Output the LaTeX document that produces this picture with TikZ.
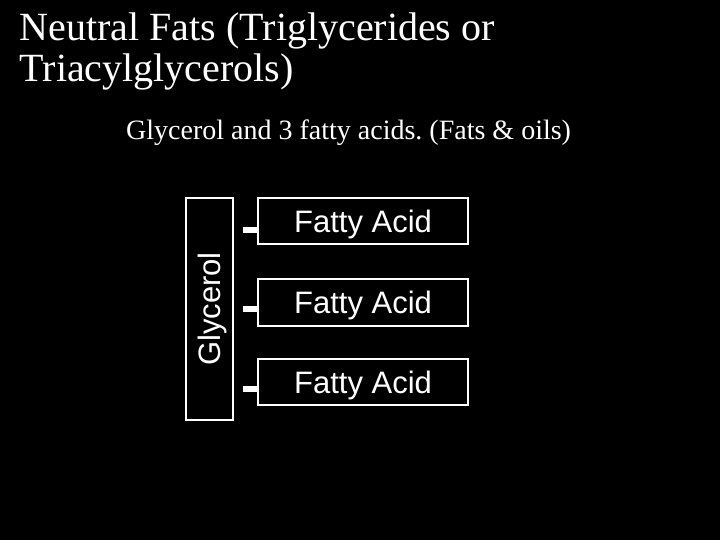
\documentclass[tikz,border=0pt]{standalone}
\usepackage{fontspec}
\setmainfont{Liberation Serif}
\newfontfamily\arialfont{Liberation Sans}
\frenchspacing
\begin{document}
\begin{tikzpicture}[x=1bp,y=-1bp,
  titletext/.style={white,inner sep=0pt,anchor=base west,font=\fontsize{40bp}{40bp}\selectfont},
  subtext/.style={white,inner sep=0pt,anchor=base west,font=\fontsize{28bp}{28bp}\selectfont},
  fabox/.style={draw=white,line width=1.6bp,minimum width=210bp,minimum height=46bp,inner sep=0pt,text depth=0pt,text=white,font=\arialfont\fontsize{31bp}{31bp}\selectfont},
  glybox/.style={draw=white,line width=1.6bp,minimum width=47bp,minimum height=222bp,inner sep=0pt},
  bar/.style={white,line width=6bp}]
\fill[black] (0,0) rectangle (720,540);
\useasboundingbox (0,0) rectangle (720,540);
\node[titletext] (t1) at (19.5,41) {Neutral Fats (Triglycerides or};
\node[titletext] (t2) at (19.5,82) {Triacylglycerols)};
\node[subtext] (sub) at (126,140) {Glycerol and 3 fatty acids. (Fats \& oils)};
\node[glybox] (gly) at (209.5,309) {};
\node[rotate=90,text=white,inner sep=0pt,text depth=0pt,font=\arialfont\fontsize{31bp}{31bp}\selectfont] (glytext) at (gly.center) {Glycerol};
\node[fabox] (fa1) at (363,221) {Fatty Acid};
\node[fabox,minimum height=47bp] (fa2) at (363,302.5) {Fatty Acid};
\node[fabox] (fa3) at (363,382) {Fatty Acid};
\coordinate (c1) at (243,230);
\coordinate (c2) at (243,309);
\coordinate (c3) at (243,389);
\draw[bar] (c1) -- (c1 -| fa1.west);
\draw[bar] (c2) -- (c2 -| fa2.west);
\draw[bar] (c3) -- (c3 -| fa3.west);
\end{tikzpicture}
\end{document}
